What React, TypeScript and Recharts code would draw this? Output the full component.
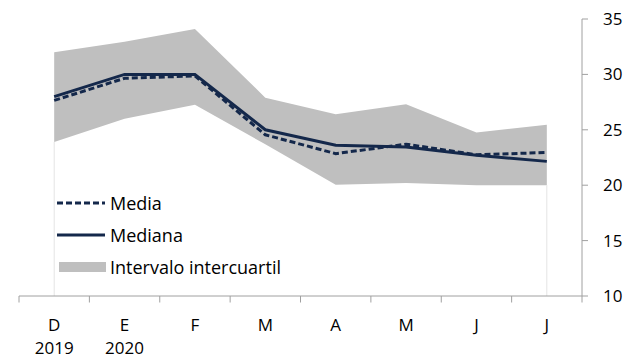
import React from 'react';
import {
  ComposedChart,
  Area,
  Line,
  XAxis,
  YAxis,
  ReferenceLine,
} from 'recharts';

// Meses (etiqueta superior) y año (segunda línea)
const months = ['D', 'E', 'F', 'M', 'A', 'M', 'J', 'J'];
const years = ['2019', '2020', '', '', '', '', '', ''];

const media = [27.65, 29.65, 29.86, 24.55, 22.85, 23.7, 22.75, 22.95];
const mediana = [28.0, 30.0, 30.0, 25.0, 23.6, 23.45, 22.7, 22.15];
const q1 = [23.9, 26.0, 27.25, 23.7, 20.05, 20.2, 20.0, 20.0];
const q3 = [32.0, 32.95, 34.1, 27.9, 26.4, 27.3, 24.75, 25.45];

const yTicks = [10, 15, 20, 25, 30, 35];

const NAVY = '#14284b';
const GREY_BAND = '#bfbfbf';
const AXIS = '#a0a0a0';
const FONT = '"Open Sans", sans-serif';

const data = months.map((m, i) => ({
  x: i + 0.5,
  band: [q1[i], q3[i]],
  media: media[i],
  mediana: mediana[i],
}));

// limites de categoria (marcas) + centros (etiquetas)
const xTicks: number[] = [];
for (let i = 0; i <= months.length * 2; i++) xTicks.push(i / 2);

const XTick = (props: any) => {
  const { x, y, payload } = props;
  const v = payload.value as number;
  if (Number.isInteger(v)) {
    return <line x1={x} x2={x} y1={y} y2={y + 6.5} stroke={AXIS} strokeWidth={1} />;
  }
  const idx = Math.floor(v);
  return (
    <g>
      <text x={x} y={y + 34.5} textAnchor="middle" fontSize={17} fontFamily={FONT} fill="#000">
        {months[idx]}
      </text>
      {years[idx] && (
        <text x={x} y={y + 57.5} textAnchor="middle" fontSize={17} fontFamily={FONT} fill="#000">
          {years[idx]}
        </text>
      )}
    </g>
  );
};

const LegendBox = () => {
  const row: React.CSSProperties = {
    display: 'flex',
    alignItems: 'center',
    height: 32,
    fontSize: 18,
    fontFamily: FONT,
    color: '#000',
  };
  return (
    <div style={{ position: 'absolute', left: 57, top: 187 }}>
      <div style={row}>
        <svg width={53} height={10}>
          <line x1={0} x2={48} y1={5} y2={5} stroke={NAVY} strokeWidth={3} strokeDasharray="6 3" />
        </svg>
        <span>Media</span>
      </div>
      <div style={row}>
        <svg width={53} height={10}>
          <line x1={0} x2={48} y1={5} y2={5} stroke={NAVY} strokeWidth={3} />
        </svg>
        <span>Mediana</span>
      </div>
      <div style={row}>
        <svg width={53} height={12}>
          <rect x={2} y={1} width={47} height={10} fill={GREY_BAND} />
        </svg>
        <span>Intervalo intercuartil</span>
      </div>
    </div>
  );
};

export default function App() {
  return (
    <div style={{ position: 'absolute', left: 0, top: 0, width: 641, height: 360, fontFamily: FONT }}>
      <ComposedChart
        width={641}
        height={360}
        data={data}
        margin={{ top: 19, right: 0, left: 19, bottom: 4 }}
      >
        <XAxis
          dataKey="x"
          type="number"
          domain={[0, months.length]}
          ticks={xTicks}
          interval={0}
          tickLine={false}
          tickSize={0}
          tickMargin={0}
          axisLine={{ stroke: AXIS }}
          tick={<XTick />}
          height={60}
        />
        <YAxis
          orientation="right"
          domain={[10, 35]}
          ticks={yTicks}
          interval={0}
          width={59}
          axisLine={{ stroke: AXIS }}
          tickLine={{ stroke: AXIS }}
          tickSize={6}
          tickMargin={15}
          tick={{ fontSize: 17, fill: '#000', fontFamily: FONT, textAnchor: 'start' }}
        />
        <Area
          dataKey="band"
          type="linear"
          fill={GREY_BAND}
          fillOpacity={1}
          stroke="none"
          isAnimationActive={false}
        />
        <ReferenceLine
          segment={[{ x: data[0].x, y: 10 }, { x: data[0].x, y: q1[0] }]}
          stroke="#e4e4e4"
        />
        <ReferenceLine
          segment={[
            { x: data[data.length - 1].x, y: 10 },
            { x: data[data.length - 1].x, y: q1[q1.length - 1] },
          ]}
          stroke="#e4e4e4"
        />
        <Line
          dataKey="mediana"
          type="linear"
          stroke={NAVY}
          strokeWidth={3}
          dot={false}
          isAnimationActive={false}
        />
        <Line
          dataKey="media"
          type="linear"
          stroke={NAVY}
          strokeWidth={3}
          strokeDasharray="6 3"
          dot={false}
          isAnimationActive={false}
        />
      </ComposedChart>
      <LegendBox />
    </div>
  );
}
